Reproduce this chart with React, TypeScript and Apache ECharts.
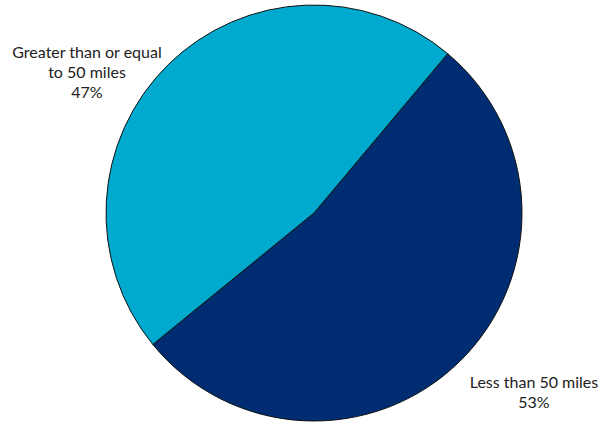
import React, { useEffect, useRef } from "react";
import * as echarts from "echarts";

const categories = ["Less than 50 miles", "Greater than or equal to 50 miles"];
const labelTexts = ["Less than 50 miles", "Greater than or equal\nto 50 miles"];
const values = [53, 47];
const colors = ["#002D72", "#00A9CE"];

export default function App() {
  const ref = useRef<HTMLDivElement>(null);
  useEffect(() => {
    if (!ref.current) return;
    const chart = echarts.init(ref.current, null, { renderer: "svg" });
    const labelPos = [
      { x: 534, y: 391 },
      { x: 87, y: 71 },
    ];
    chart.setOption({
      animation: false,
      backgroundColor: "#ffffff",
      series: [
        {
          type: "pie",
          center: [314, 213],
          radius: 208,
          startAngle: 50,
          clockwise: true,
          data: categories.map((name, i) => ({
            name,
            value: values[i],
            itemStyle: { color: colors[i] },
          })),
          itemStyle: { borderColor: "#111", borderWidth: 1 },
          label: {
            show: true,
            position: "outside",
            formatter: (p: any) => `${labelTexts[p.dataIndex]}\n${p.value}%`,
            fontFamily: "Lato",
            fontSize: 16,
            lineHeight: 20,
            color: "#222",
            align: "center",
            width: 220,
            overflow: "none",
          },
          labelLine: { show: false },
          labelLayout: (params: any) => ({
            x: labelPos[params.dataIndex].x,
            y: labelPos[params.dataIndex].y,
            align: "center",
            verticalAlign: "middle",
          }),
          emphasis: { disabled: true },
        },
      ],
    });
    return () => chart.dispose();
  }, []);
  return (
    <div
      ref={ref}
      style={{ position: "fixed", left: 0, top: 0, width: 603, height: 424 }}
    />
  );
}
